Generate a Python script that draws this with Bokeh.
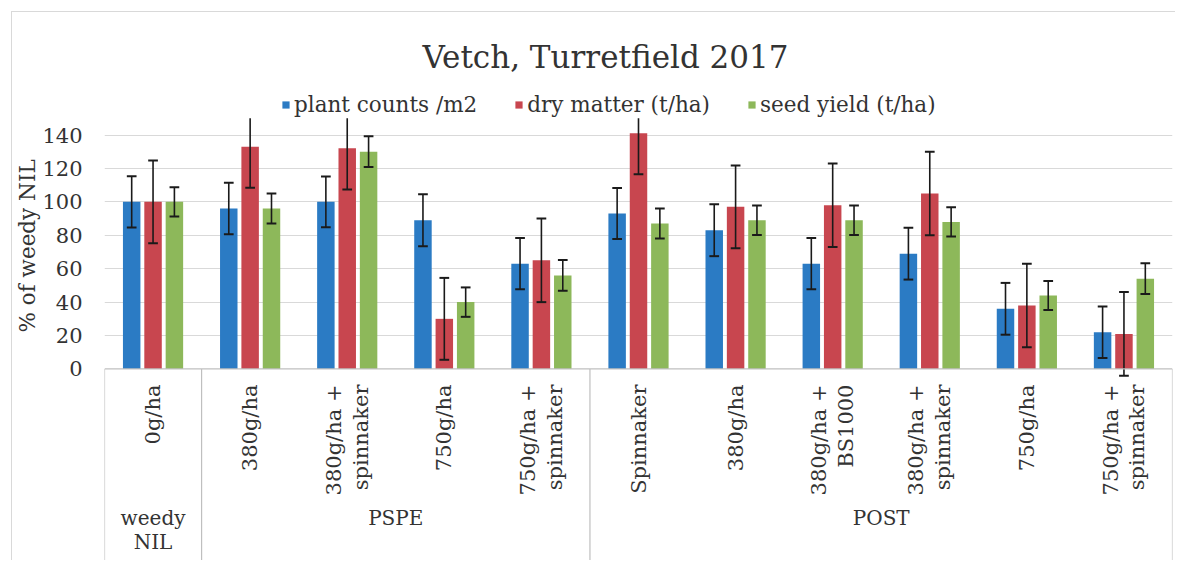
import numpy as np
from bokeh.plotting import figure
from bokeh.models import (Range1d, FixedTicker, Legend, LegendItem, Label, BoxAnnotation, Title)
from bokeh.core.properties import value
from bokeh.embed import file_html
from bokeh.resources import INLINE

# ---------------- data ----------------
title = "Vetch, Turretfield 2017"
groups = ["weedy\nNIL", "PSPE", "POST"]
group_sizes = [1, 4, 6]
treatments = ["0g/ha", "380g/ha", "380g/ha +\nspinnaker", "750g/ha", "750g/ha +\nspinnaker",
              "Spinnaker", "380g/ha", "380g/ha +\nBS1000", "380g/ha +\nspinnaker", "750g/ha",
              "750g/ha +\nspinnaker"]
series_names = ["plant counts /m2", "dry matter (t/ha)", "seed yield (t/ha)"]
plant_counts = [100, 96, 100, 89, 63, 93, 83, 63, 69, 36, 22]
dry_matter = [100, 133, 132, 30, 65, 141, 97, 98, 105, 38, 21]
seed_yield = [100, 96, 130, 40, 56, 87, 89, 89, 88, 44, 54]
plant_counts_err = [15.3, 15.4, 15.2, 15.5, 15.3, 15.3, 15.5, 15.3, 15.5, 15.5, 15.4]
dry_matter_err = [24.7, 24.6, 24.6, 24.5, 25.0, 24.5, 24.7, 25.0, 25.0, 25.0, 25.0]
seed_yield_err = [8.7, 9.0, 9.2, 8.8, 9.2, 9.0, 8.8, 8.8, 8.8, 8.7, 9.2]
y_ticks = [0, 20, 40, 60, 80, 100, 120, 140]
y_label = "% of weedy NIL"
y_clip = 150  # plot-area top (error bars are cut here)

# ---------------- style ----------------
FONT = "DejaVu Serif"
TXT = "#333333"
colors = ["#2b7bc4", "#c8464f", "#8db85a"]
offsets = [-0.22, 0.0, 0.22]
bar_w = 0.18

n = len(treatments)
idx = np.arange(n)

p = figure(width=1164, height=549, output_backend="svg", toolbar_location=None,
           x_range=Range1d(-0.5, n - 0.5), y_range=Range1d(-115.2, 213.3),
           x_axis_location=None, min_border_left=90, min_border_right=4,
           min_border_top=0, min_border_bottom=0)
p.outline_line_color = None
p.background_fill_color = "white"
p.margin = (11, 0, 0, 11)
p.styles = {"border-left": "1px solid #d9d9d9", "border-top": "1px solid #d9d9d9"}

# y axis
p.yaxis.ticker = FixedTicker(ticks=y_ticks)
p.yaxis.axis_line_color = None
p.yaxis.major_tick_line_color = None
p.yaxis.minor_tick_line_color = None
p.yaxis.major_label_text_font = FONT
p.yaxis.major_label_text_font_size = "21px"
p.yaxis.major_label_text_color = TXT
p.yaxis.major_label_standoff = 16

# y-axis title, placed alongside the 0-140 value axis as in the original
p.add_layout(Title(text=y_label, align="left", offset=229, text_font=FONT,
                   text_font_size="21.5px", text_font_style="normal", text_color=TXT,
                   standoff=0), "left")

p.xgrid.visible = False
p.ygrid.ticker = FixedTicker(ticks=y_ticks[1:])
p.ygrid.grid_line_color = "#d9d9d9"
p.ygrid.grid_line_width = 1

# bars and error bars
vals = [plant_counts, dry_matter, seed_yield]
errs = [plant_counts_err, dry_matter_err, seed_yield_err]
renderers = []
for k in range(3):
    xs = idx + offsets[k]
    v = np.array(vals[k], dtype=float)
    e = np.array(errs[k], dtype=float)
    r = p.vbar(x=xs, top=v, bottom=0, width=bar_w, fill_color=colors[k], line_color=None)
    renderers.append(r)
    p.segment(x0=xs, y0=v - e, x1=xs, y1=v + e, line_color="#1a1a1a", line_width=1.6)
    p.segment(x0=xs - 0.05, y0=v + e, x1=xs + 0.05, y1=v + e, line_color="#1a1a1a", line_width=2)
    p.segment(x0=xs - 0.05, y0=v - e, x1=xs + 0.05, y1=v - e, line_color="#1a1a1a", line_width=2)

# plot area ends at y_clip: mask anything drawn above it
p.add_layout(BoxAnnotation(bottom=y_clip, fill_color="white", fill_alpha=1.0, line_color=None))

# category axis (two-level) drawn with the same scale
bounds = np.concatenate([[-0.5], np.cumsum(group_sizes) - 0.5])
y_bot = p.y_range.start
p.segment(x0=[-0.5], y0=[0], x1=[n - 0.5], y1=[0], line_color="#bfbfbf", line_width=1.2)
p.segment(x0=bounds, y0=[0] * len(bounds), x1=bounds, y1=[y_bot] * len(bounds),
          line_color="#bfbfbf", line_width=1.2)
p.text(x=idx, y=[-9.3] * n, text=treatments, angle=np.pi / 2, text_align="right",
       text_baseline="middle", text_font=value(FONT), text_font_size="21px",
       text_color=TXT, text_line_height=1.12)
mids = (bounds[:-1] + bounds[1:]) / 2
p.text(x=mids, y=[-82] * len(mids), text=groups, text_align="center",
       text_baseline="top", text_font=value(FONT), text_font_size="20px",
       text_color=TXT, text_line_height=1.0)

# legend
legend = Legend(items=[LegendItem(label=series_names[k], renderers=[renderers[k]]) for k in range(3)],
                orientation="horizontal", location=(177, 444),
                label_text_font=FONT, label_text_font_size="21.5px", label_text_color=TXT,
                glyph_width=9, glyph_height=9, label_standoff=4, spacing=37,
                padding=0, margin=0, border_line_alpha=0, background_fill_alpha=0)
p.add_layout(legend)

# chart title
p.add_layout(Label(x=4.66, y=186.5, text=title, text_align="center", text_baseline="alphabetic",
                   text_font=FONT, text_font_size="31px", text_color=TXT))

open("out.html", "w").write(file_html(p, INLINE))
